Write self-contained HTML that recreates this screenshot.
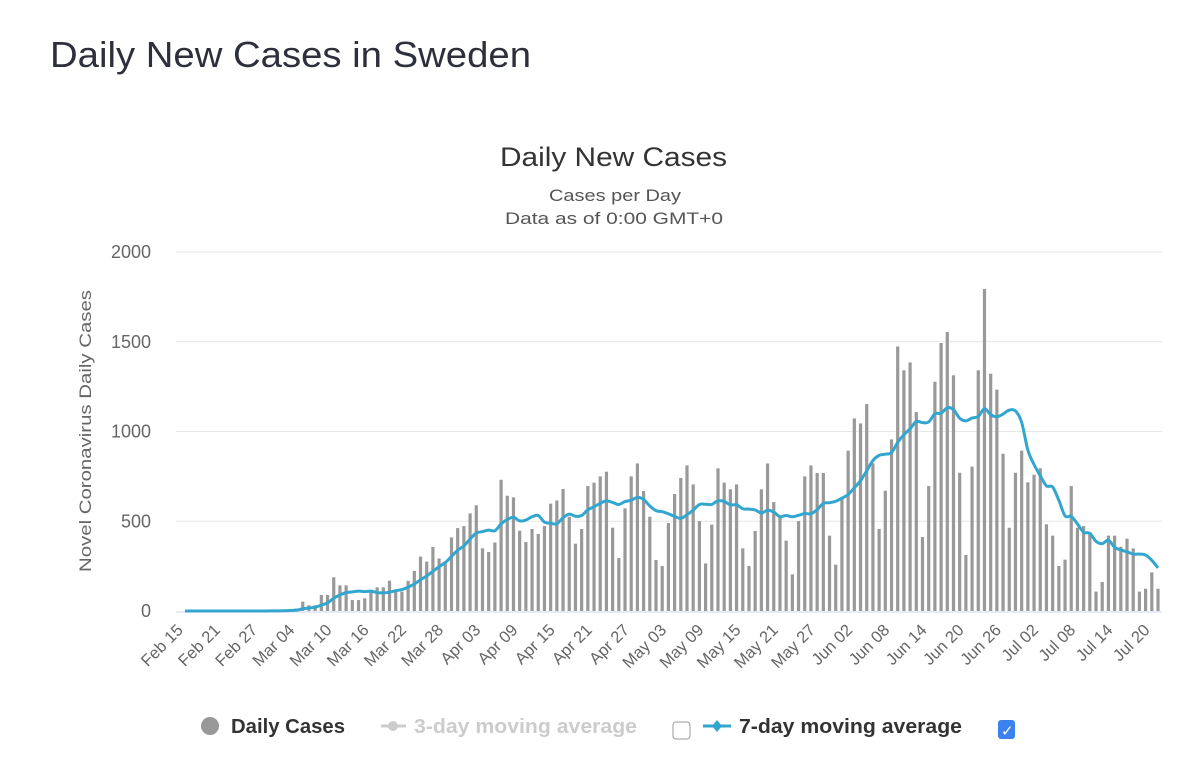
<!DOCTYPE html>
<html><head><meta charset="utf-8">
<style>
html,body{margin:0;padding:0;background:#fff;}
body{width:1200px;height:778px;overflow:hidden;font-family:"Liberation Sans",sans-serif;}
svg{position:absolute;left:0;top:0;}
</style></head>
<body>
<svg id="chart" width="1200" height="778"></svg>
<script>
const dailyCases = [0,0,0,0,0,0,0,0,0,0,0,1,0,1,2,3,5,8,14,
52,32,32,89,89,188,143,143,61,61,71,108,132,132,169,117,108,168,223,303,275,357,293,269,410,462,473,544,589,349,329,382,731,642,633,447,384,457,429,473,598,616,680,525,375,
457,696,715,750,776,464,295,572,750,822,668,525,284,251,490,652,741,811,705,501,265,481,795,715,678,705,349,251,446,678,822,607,527,392,204,501,750,811,769,769,420,258,624,893,
1073,1045,1153,823,457,670,956,1474,1341,1385,1108,412,696,1277,1493,1554,1313,770,312,804,1341,1794,1322,1233,876,464,770,893,717,759,795,483,420,251,286,696,464,473,438,108,162,420,420,358,403,349,108,124,215,124];
const yTicks = [0,500,1000,1500,2000];
const xTickLabels = ["Feb 15","Feb 21","Feb 27","Mar 04","Mar 10","Mar 16","Mar 22","Mar 28","Apr 03","Apr 09","Apr 15","Apr 21","Apr 27","May 03","May 09","May 15","May 21","May 27","Jun 02","Jun 08","Jun 14","Jun 20","Jun 26","Jul 02","Jul 08","Jul 14","Jul 20"];
const xTickStep = 6;

const NS="http://www.w3.org/2000/svg";
const svg=document.getElementById('chart');
const X0=185, X1=1158, Y0=611, Y1=252, YMAX=2000;
const n=dailyCases.length;
function xs(i){return X0+i*(X1-X0)/(n-1);}
function ys(v){return Y0-(v/YMAX)*(Y0-Y1);}
function mk(tag,attrs,parent){const e=document.createElementNS(NS,tag);for(const k in attrs)e.setAttribute(k,attrs[k]);(parent||svg).appendChild(e);return e;}
function txt(s,attrs,parent){const e=mk('text',attrs,parent);e.textContent=s;return e;}

let t=txt("Daily New Cases in Sweden",{x:50,y:67,'font-size':36,fill:'#2d303b',textLength:481,lengthAdjust:'spacingAndGlyphs'});


t=txt("Daily New Cases",{x:500,y:166,'font-size':27,fill:'#333',textLength:227,lengthAdjust:'spacingAndGlyphs'});


t=txt("Cases per Day",{x:549,y:201,'font-size':17,fill:'#555',textLength:132,lengthAdjust:'spacingAndGlyphs'});


t=txt("Data as of 0:00 GMT+0",{x:505,y:224,'font-size':17,fill:'#555',textLength:218,lengthAdjust:'spacingAndGlyphs'});



yTicks.forEach(v=>{
  if(v>0){const g=mk('line',{x1:176,x2:1162,y1:ys(v),y2:ys(v),stroke:'#e6e6e6','stroke-width':1});
  
  }
  const l=txt(String(v),{x:151,y:ys(v)+6,'text-anchor':'end','font-size':18,fill:'#666'});
  
  
});
t=txt("Novel Coronavirus Daily Cases",{x:91,y:431,'text-anchor':'middle','font-size':17,fill:'#666',textLength:282,lengthAdjust:'spacingAndGlyphs',transform:'rotate(-90 91 431)'});



const ax=mk('line',{x1:176,x2:1162,y1:Y0+1,y2:Y0+1,stroke:'#ccd6eb','stroke-width':1});


xTickLabels.forEach((s,k)=>{
  const x=xs(k*xTickStep)-1, y=631;
  const l=txt(s,{x:x,y:y,'text-anchor':'end','font-size':16.5,fill:'#666',transform:`rotate(-45 ${x} ${y})`});
  
  
});

const bw=3.2;
dailyCases.forEach((v,i)=>{
  const b=mk('rect',{x:xs(i)-bw/2,y:ys(v),width:bw,height:Math.max(0,Y0-ys(v)),fill:'#999'});
  
  
});

const ma=dailyCases.map((v,i)=>{let s=0,c=0;for(let j=Math.max(0,i-6);j<=i;j++){s+=dailyCases[j];c++;}return s/c;});
const pts=ma.map((v,i)=>[xs(i),ys(v)]);
let d=`M${pts[0][0]},${pts[0][1]}`;
for(let i=0;i<pts.length-1;i++){
  const p0=pts[Math.max(0,i-1)],p1=pts[i],p2=pts[i+1],p3=pts[Math.min(pts.length-1,i+2)];
  const c1=[p1[0]+(p2[0]-p0[0])/6,p1[1]+(p2[1]-p0[1])/6],c2=[p2[0]-(p3[0]-p1[0])/6,p2[1]-(p3[1]-p1[1])/6];
  d+=` C${c1[0]},${c1[1]} ${c2[0]},${c2[1]} ${p2[0]},${p2[1]}`;
}
const line=mk('path',{d:d,fill:'none',stroke:'#32a6cf','stroke-width':3,'stroke-linejoin':'round'});



const lg=mk('g',{});


const e1=mk('g',{},lg);


mk('circle',{cx:210,cy:726,r:9,fill:'#999'},e1);
txt("Daily Cases",{x:231,y:733,'font-size':20,'font-weight':'bold',fill:'#333',textLength:114,lengthAdjust:'spacingAndGlyphs'},e1);
const e2=mk('g',{},lg);


mk('line',{x1:381,x2:406,y1:726,y2:726,stroke:'#ccc','stroke-width':3},e2);
mk('circle',{cx:393,cy:726,r:5,fill:'#ccc'},e2);
txt("3-day moving average",{x:414,y:733,'font-size':20,'font-weight':'bold',fill:'#ccc',textLength:223,lengthAdjust:'spacingAndGlyphs'},e2);
const cb1=mk('rect',{x:673,y:722,width:17,height:17,rx:3,fill:'#fff',stroke:'#999','stroke-width':1},lg);


const e3=mk('g',{},lg);


mk('line',{x1:703,x2:731,y1:726,y2:726,stroke:'#32a6cf','stroke-width':3},e3);
mk('path',{d:'M717,720 L722,726 L717,732 L712,726 Z',fill:'#32a6cf'},e3);
txt("7-day moving average",{x:739,y:733,'font-size':20,'font-weight':'bold',fill:'#333',textLength:223,lengthAdjust:'spacingAndGlyphs'},e3);
const cb2=mk('rect',{x:998,y:720,width:17,height:19,rx:3,fill:'#3b82f0'},lg);


txt("✓",{x:1001,y:736,'font-size':15,fill:'#fff'},lg);
</script>
</body></html>
